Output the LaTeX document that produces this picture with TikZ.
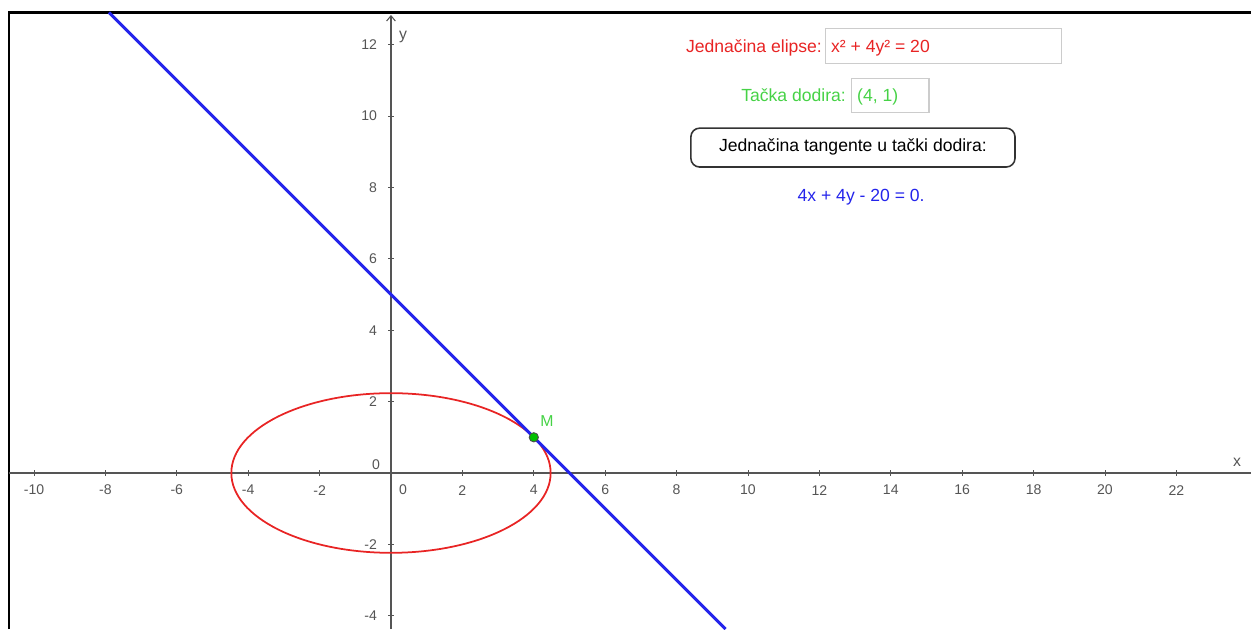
\documentclass[tikz,border=0pt]{standalone}
\usepackage{fontspec}
\setmainfont{Liberation Sans}
\usepackage{tikz}
\usetikzlibrary{arrows.meta}

\definecolor{elipsared}{RGB}{232,36,36}
\definecolor{tackagreen}{RGB}{70,210,70}
\definecolor{tangblue}{RGB}{36,36,235}
\definecolor{osgray}{RGB}{85,85,85}

\begin{document}
\begin{tikzpicture}[x=0.714cm,y=0.714cm]
  \useasboundingbox (-10.952,-4.370) rectangle (24.090,13.249);

  % okvir
  \draw[line width=1.2pt] (-10.71,-4.37) -- (-10.71,12.90) -- (24.09,12.90);

  % osi
  \draw[osgray,line width=0.6pt] (-10.71,0) -- (24.09,0);
  \draw[osgray,line width=0.6pt,-{Straight Barb[length=3pt,width=5pt]}] (0,-4.37) -- (0,12.83);
  \node[osgray,font=\fontsize{9}{10}\selectfont] (xlab) at (23.70,0.31) {x};
  \node[osgray,font=\fontsize{9}{10}\selectfont] (ylab) at (0.34,12.21) {y};

  % podeoci
  \foreach \i [count=\k] in {-10,-8,...,-2,2,4,...,22} {
    \draw[osgray,line width=0.5pt] (\i,-0.08) -- (\i,0.08);
    \node[osgray,font=\fontsize{8}{9}\selectfont] (xt\k) at (\i,-0.48) {\i};
  }
  \foreach \j [count=\k] in {-4,-2,2,4,...,12} {
    \draw[osgray,line width=0.5pt] (-0.08,\j) -- (0.08,\j);
    \node[osgray,font=\fontsize{8}{9}\selectfont,anchor=east] (yt\k) at (-0.22,\j) {\j};
  }
  \node[osgray,font=\fontsize{8}{9}\selectfont] (xt0) at (0.34,-0.48) {0};
  \node[osgray,font=\fontsize{8}{9}\selectfont] (yt0) at (-0.42,0.22) {0};

  % elipsa
  \draw[elipsared,line width=1pt] (0,0) ellipse ({sqrt(20)} and {sqrt(5)});

  % tangenta
  \draw[tangblue,line width=1.8pt] (-7.9,12.9) -- (9.37,-4.37);

  % tacka M
  \filldraw[fill=green!75!black,draw=black!70,line width=0.5pt] (4,1) circle (0.13);
  \node[tackagreen,font=\fontsize{9}{10}\selectfont] (mlab) at (4.37,1.46) {M};

  % tekst
  \node[elipsared,anchor=base east,inner sep=1pt] (elab) at (12.13,11.78) {Jednačina elipse:};
  \draw[black!20,line width=0.6pt] (12.18,11.48) rectangle (18.77,12.44);
  \node[elipsared,anchor=base west,inner sep=1pt] (eq) at (12.27,11.78) {x² + 4y² = 20};

  \node[tackagreen,anchor=base east,inner sep=1pt] (tlab) at (12.80,10.41) {Tačka dodira:};
  \draw[black!20,line width=0.6pt] (12.91,10.11) rectangle (15.07,11.06);
  \node[tackagreen,anchor=base west,inner sep=1pt] (tval) at (13.0,10.41) {(4, 1)};

  \draw[black!80,line width=0.9pt,rounded corners=5pt] (8.40,8.57) rectangle (17.48,9.66);
  \node[black] (btn) at (12.94,9.12) {Jednačina tangente u tački dodira:};

  \node[tangblue] (tang) at (13.17,7.73) {4x + 4y - 20 = 0.};
\end{tikzpicture}
\end{document}
